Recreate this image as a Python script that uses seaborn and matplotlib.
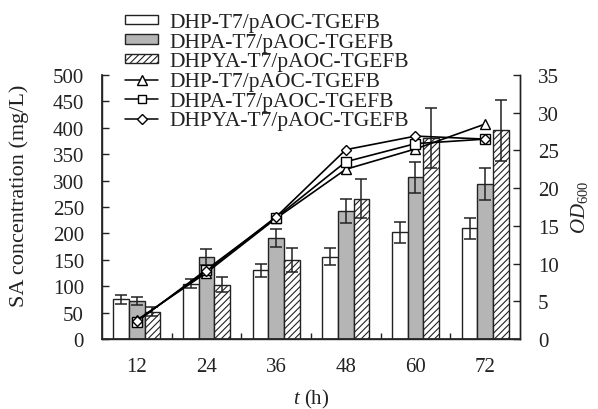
import numpy as np
import pandas as pd
import seaborn as sns
import matplotlib.pyplot as plt
from matplotlib.patches import Patch
from matplotlib.lines import Line2D

sns.set_theme(style='ticks')
plt.rcParams['font.family'] = ['Liberation Serif', 'DejaVu Serif']
plt.rcParams['mathtext.fontset'] = 'custom'
plt.rcParams['mathtext.rm'] = 'Liberation Serif'
plt.rcParams['mathtext.it'] = 'Liberation Serif:italic'
plt.rcParams['hatch.linewidth'] = 0.8

times = ['12', '24', '36', '48', '60', '72']
strains = ['DHP-T7/pAOC-TGEFB', 'DHPA-T7/pAOC-TGEFB', 'DHPYA-T7/pAOC-TGEFB']

# SA concentration (mg/L), bars
sa_dhp = [75, 105, 130, 156, 202, 210]
sa_dhpa = [72, 155, 192, 243, 306, 294]
sa_dhpya = [52, 103, 150, 266, 380, 395]
sa_dhp_err = [8, 9, 12, 16, 20, 20]
sa_dhpa_err = [8, 15, 17, 23, 30, 30]
sa_dhpya_err = [8, 14, 23, 37, 57, 57]

# OD600, lines
od_dhp = [2.5, 8.8, 16.0, 22.5, 25.2, 28.5]
od_dhpa = [2.3, 9.2, 16.1, 23.5, 25.9, 26.5]
od_dhpya = [2.4, 9.0, 16.2, 25.1, 26.9, 26.5]

sa_df = pd.DataFrame({
    'time': times * 3,
    'sa': sa_dhp + sa_dhpa + sa_dhpya,
    'strain': [s for s in strains for _ in times],
})
errs = [sa_dhp_err, sa_dhpa_err, sa_dhpya_err]

od_df = pd.DataFrame({
    'pos': list(range(len(times))) * 3,
    'od': od_dhp + od_dhpa + od_dhpya,
    'strain': [s for s in strains for _ in times],
})

ink = '#222222'
grey = '#b5b5b5'
msizes = [7, 6.5, 5.5]

fig = plt.figure(figsize=(5.98, 4.10), dpi=100)
ax = fig.add_axes([102 / 598, 1 - 340 / 410, 418 / 598, 264 / 410])

sns.barplot(data=sa_df, x='time', y='sa', hue='strain', hue_order=strains,
            palette=['white', grey, 'white'], edgecolor=ink, linewidth=1,
            width=0.67, gap=0, errorbar=None, legend=False, ax=ax)

bar_groups = list(ax.containers)
for i, cont in enumerate(bar_groups):
    xs = [p.get_x() + p.get_width() / 2 for p in cont.patches]
    hs = [p.get_height() for p in cont.patches]
    if i == 2:
        for p in cont.patches:
            p.set_hatch('/////')
    ax.errorbar(xs, hs, yerr=errs[i], fmt='none', ecolor=ink,
                elinewidth=1.1, capsize=4, capthick=1.1, zorder=5)

ax.set_ylim(0, 500)
ax.set_yticks(np.arange(0, 501, 50))
ax.set_xlim(-0.5, len(times) - 0.5)
ax.set_xlabel('')
ax.set_ylabel('')
ax.tick_params(axis='y', direction='in', length=5, width=1, pad=13,
               labelsize=15, color=ink, labelcolor=ink)
ax.tick_params(axis='x', which='major', length=0, pad=13, labelsize=15,
               labelcolor=ink)
ax.set_xticks(np.arange(0.5, len(times) - 0.5), minor=True)
ax.tick_params(axis='x', which='minor', direction='in', length=4, width=1,
               color=ink)
for s in ['left', 'bottom', 'right']:
    ax.spines[s].set_color(ink)
    ax.spines[s].set_linewidth(1)
ax.spines['top'].set_visible(False)

ax2 = ax.twinx()
sns.lineplot(data=od_df, x='pos', y='od', style='strain', style_order=strains,
             markers=['^', 's', 'D'], dashes=False, color='black',
             linewidth=1.2, legend=False, ax=ax2)
for ln, ms in zip(ax2.lines, msizes):
    ln.set_markerfacecolor('white')
    ln.set_markeredgecolor('black')
    ln.set_markeredgewidth(1)
    ln.set_markersize(ms)
ax2.set_xlim(-0.5, len(times) - 0.5)
ax2.set_ylim(0, 35)
ax2.set_yticks(np.arange(0, 36, 5))
ax2.set_ylabel('')
ax2.tick_params(axis='y', direction='in', length=5, width=1, pad=13,
                labelsize=15, color=ink, labelcolor=ink)
ax2.spines['top'].set_visible(False)
ax2.spines['right'].set_color(ink)
ax2.spines['right'].set_linewidth(1)

fig.text(19 / 598, 1 - 196 / 410, 'SA concentration (mg/L)', rotation=90,
         ha='center', va='center', fontsize=16, color=ink)
fig.text(580 / 598, 1 - 207 / 410, r'$\mathit{OD}_{600}$', rotation=90,
         ha='center', va='center', fontsize=15, color=ink)
fig.text(311 / 598, 1 - 399 / 410, r'$t$ (h)', ha='center', va='center',
         fontsize=15, color=ink)

handles = [
    Patch(facecolor='white', edgecolor=ink, linewidth=1),
    Patch(facecolor=grey, edgecolor=ink, linewidth=1),
    Patch(facecolor='white', edgecolor=ink, linewidth=1, hatch='/////'),
]
for mk, ms in zip(['^', 's', 'D'], [6.5, 6, 5]):
    handles.append(Line2D([], [], color='black', lw=1.1, marker=mk, ms=ms,
                          mfc='white', mec='black'))
fig.legend(handles, strains + strains, loc='upper left',
           bbox_to_anchor=(125 / 598, 1 - 14 / 410), frameon=False,
           fontsize=15.5, handlelength=1.55, handleheight=0.3, handletextpad=0.5,
           labelspacing=0.03, borderpad=0, borderaxespad=0, labelcolor=ink)

fig.savefig('out.png', dpi=100)
